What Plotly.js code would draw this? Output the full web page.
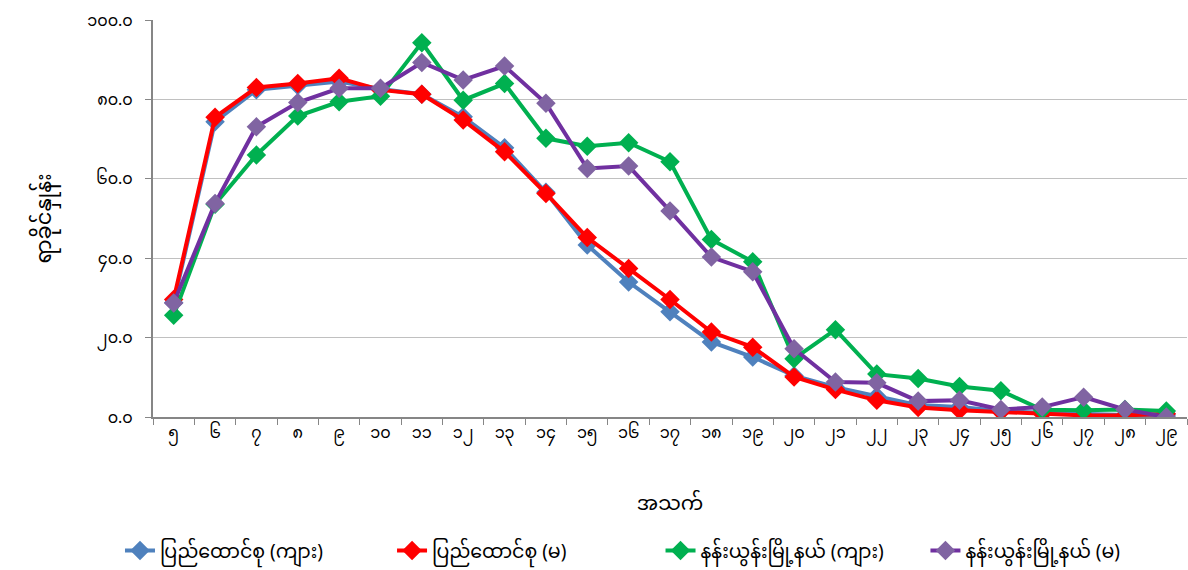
<!DOCTYPE html>
<html><head><meta charset="utf-8">
<script src="https://cdn.plot.ly/plotly-3.0.1.min.js"></script>
<style>body{margin:0;background:#fff}#chart{width:1188px;height:570px}</style>
</head><body><div id="chart"></div>
<script>
const ages = ["၅","၆","၇","၈","၉","၁၀","၁၁","၁၂","၁၃","၁၄","၁၅","၁၆","၁၇","၁၈","၁၉","၂၀","၂၁","၂၂","၂၃","၂၄","၂၅","၂၆","၂၇","၂၈","၂၉"];
const unionMale   = [28.8,74.4,82.4,83.5,84.5,82.6,81.3,75.6,67.8,56.6,43.3,34.0,26.5,18.9,15.1,10.4,7.5,5.2,3.0,2.5,1.5,1.1,0.7,0.5,0.5];
const unionFemale = [29.6,75.5,83.0,84.0,85.3,82.4,81.3,74.8,66.8,56.3,45.2,37.4,29.6,21.4,17.6,10.1,6.9,4.2,2.4,1.7,1.3,0.8,0.4,0.4,0.8];
const townMale    = [25.6,53.6,66.0,75.8,79.4,80.8,94.3,79.8,84.0,70.2,68.2,69.1,64.3,44.7,39.1,14.7,22.0,10.8,9.7,7.7,6.6,1.8,1.7,1.9,1.5];
const townFemale  = [28.7,53.8,73.1,79.2,82.8,82.8,89.3,84.9,88.4,79.0,62.6,63.2,51.9,40.3,36.6,17.2,8.8,8.6,4.0,4.2,1.9,2.5,5.0,1.9,0.0];
const yTickVals = [0,20,40,60,80,100];
const yTickText = ["၀.၀","၂၀.၀","၄၀.၀","၆၀.၀","၈၀.၀","၁၀၀.၀"];
const names = ["ပြည်ထောင်စု (ကျား)","ပြည်ထောင်စု (မ)","နန်းယွန်းမြို့နယ် (ကျား)","နန်းယွန်းမြို့နယ် (မ)"];

const FONT = "'Noto Sans Myanmar','Padauk','Myanmar Text','Noto Sans',sans-serif";
function tr(y, name, lc, mc, lg){
  return {x: ages, y: y, name: name, type:'scatter', mode:'lines+markers', legend: lg,
    line:{color:lc, width:4}, marker:{symbol:'diamond', size:15, color:mc}};
}
const data = [
  tr(unionMale, names[0], '#4f81bd', '#4f81bd', 'legend'),
  tr(unionFemale, names[1], '#ff0000', '#ff0000', 'legend2'),
  tr(townMale, names[2], '#00b050', '#00b050', 'legend3'),
  tr(townFemale, names[3], '#7030a0', '#8064a2', 'legend4')
];
function lg(x){
  return {orientation:'h', xref:'container', yref:'container', x:x, xanchor:'left', y:0.034, yanchor:'middle',
    font:{size:19}, bgcolor:'rgba(0,0,0,0)'};
}
const layout = {
  width:1188, height:570,
  margin:{l:153, r:1, t:20, b:153},
  paper_bgcolor:'#fff', plot_bgcolor:'#fff',
  font:{family:FONT, size:16, color:'#000'},
  showlegend:true,
  legend: lg(0.101), legend2: lg(0.330), legend3: lg(0.556), legend4: lg(0.779),
  xaxis:{type:'category', range:[-0.5,24.5], tickson:'boundaries', ticks:'outside', ticklen:6, tickcolor:'#868686',
    showline:true, linecolor:'#868686', linewidth:2, showgrid:false, zeroline:false,
    tickfont:{size:16}, title:{text:'အသက်', font:{size:20}, standoff:45}},
  yaxis:{range:[0,100], tickvals:yTickVals, ticktext:yTickText, ticks:'outside', ticklen:6, tickcolor:'#868686',
    showline:true, linecolor:'#868686', linewidth:2, showgrid:true, gridcolor:'#c0c0c0', gridwidth:1, zeroline:false,
    ticklabelstandoff:9,
    tickfont:{size:16}, title:{text:'ရာခိုင်နှုန်း', font:{size:21}, standoff:30}}
};
Plotly.newPlot('chart', data, layout, {displayModeBar:false, staticPlot:true});
</script></body></html>
